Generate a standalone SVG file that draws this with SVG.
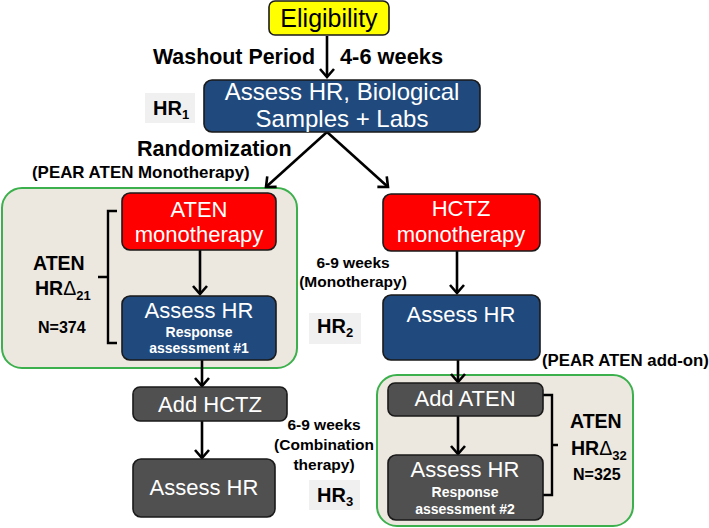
<svg xmlns="http://www.w3.org/2000/svg" width="709" height="528" viewBox="0 0 709 528">
<defs>
<marker id="ah" markerUnits="userSpaceOnUse" markerWidth="20" markerHeight="20" refX="0" refY="0" viewBox="-10 -10 20 20" orient="auto" overflow="visible">
<path d="M-8,-7 L0,0 L-8,7" fill="none" stroke="#000" stroke-width="2.6" stroke-linejoin="miter"/>
</marker>
</defs>
<style>
text{font-family:"Liberation Sans",Arial,sans-serif}
.box{stroke:#1a1a1a;stroke-width:1.6}
.blue{fill:#204a7e}
.red{fill:#ff0000}
.gray{fill:#505050}
.yel{fill:#ffff00}
.cont{fill:#ece8df;stroke:#3bb04c;stroke-width:2}
.hrbox{fill:#f0f0f0}
.wt{fill:#fff;font-size:22px;text-anchor:middle}
.ws{fill:#fff;font-size:14px;font-weight:bold;text-anchor:middle}
.b{font-weight:bold;fill:#000}
.conn{stroke:#000;stroke-width:2.6;fill:none;marker-end:url(#ah)}
.br{stroke:#000;stroke-width:2.4;fill:none}
</style>

<g id="containers">
<rect class="cont" x="2" y="188" width="295" height="180" rx="20"/>
<rect class="cont" x="377" y="375" width="256" height="151" rx="20"/>
</g>

<g id="connectors">
<line class="conn" x1="327" y1="36" x2="327" y2="77"/>
<line class="conn" x1="327" y1="132" x2="266" y2="187"/>
<line class="conn" x1="327" y1="132" x2="388" y2="187"/>
<line class="conn" x1="200" y1="250" x2="200" y2="294"/>
<line class="conn" x1="457" y1="251" x2="457" y2="293"/>
<line class="conn" x1="458" y1="360" x2="458" y2="382"/>
<line class="conn" x1="458" y1="416" x2="458" y2="454"/>
<line class="conn" x1="202" y1="360" x2="202" y2="386"/>
<line class="conn" x1="202" y1="421" x2="202" y2="458"/>
<path class="br" d="M117,211 H108 V343 H117 M108,277 H98"/>
<path class="br" d="M543,395 H552 V495 H543 M552,445 H558"/>
</g>

<g id="eligibility">
<rect class="box yel" x="269" y="1" width="120" height="34" rx="6"/>
<text x="329" y="27" font-size="25" text-anchor="middle" fill="#000">Eligibility</text>
</g>

<g id="washout">
<text class="b" x="315" y="64" font-size="21.4" text-anchor="end">Washout Period</text>
<text class="b" x="340" y="64" font-size="21.8">4-6 weeks</text>
</g>

<g id="hr1">
<rect class="hrbox" x="145" y="93" width="50" height="30"/>
<text class="b" x="153" y="115" font-size="20">HR<tspan font-size="13" dy="4">1</tspan></text>
</g>

<g id="assess-baseline">
<rect class="box blue" x="204" y="80" width="276" height="52" rx="8"/>
<text class="wt" x="342" y="100" style="font-size:24px">Assess HR, Biological</text>
<text class="wt" x="342" y="127" style="font-size:24px">Samples + Labs</text>
</g>

<g id="randomization">
<text class="b" x="137" y="156" font-size="21.6">Randomization</text>
</g>

<g id="label-mono">
<text class="b" x="32" y="178" font-size="16.9">(PEAR ATEN Monotherapy)</text>
</g>

<g id="aten-mono">
<rect class="box red" x="122" y="193" width="154" height="57" rx="8"/>
<text class="wt" x="199" y="217">ATEN</text>
<text class="wt" x="199" y="242">monotherapy</text>
</g>

<g id="assess-hr-1">
<rect class="box blue" x="122" y="296" width="154" height="64" rx="8"/>
<text class="wt" x="199" y="318">Assess HR</text>
<text class="ws" x="199" y="337">Response</text>
<text class="ws" x="199" y="353">assessment #1</text>
</g>

<g id="aten-delta-21">
<text class="b" x="33" y="270" font-size="19.5">ATEN</text>
<text class="b" x="35" y="295" font-size="19.5">HR<tspan font-weight="normal">Δ</tspan><tspan font-size="13" dy="5">21</tspan></text>
<text class="b" x="38" y="333" font-size="16">N=374</text>
</g>

<g id="hctz-mono">
<rect class="box red" x="383" y="194" width="157" height="57" rx="8"/>
<text class="wt" x="461" y="216">HCTZ</text>
<text class="wt" x="461" y="242">monotherapy</text>
</g>

<g id="weeks-mono">
<text class="b" x="353" y="268" font-size="15.5" text-anchor="middle">6-9 weeks</text>
<text class="b" x="353" y="287" font-size="15.5" text-anchor="middle">(Monotherapy)</text>
</g>

<g id="hr2">
<rect class="hrbox" x="309" y="313" width="52" height="31"/>
<text class="b" x="317" y="333" font-size="20">HR<tspan font-size="13" dy="4">2</tspan></text>
</g>

<g id="assess-hr-right">
<rect class="box blue" x="383" y="295" width="157" height="65" rx="8"/>
<text class="wt" x="461" y="322">Assess HR</text>
</g>

<g id="label-addon">
<text class="b" x="542" y="366" font-size="16.8">(PEAR ATEN add-on)</text>
</g>

<g id="add-aten">
<rect class="box gray" x="388" y="383" width="155" height="33" rx="7"/>
<text class="wt" x="465" y="406">Add ATEN</text>
</g>

<g id="assess-hr-2">
<rect class="box gray" x="388" y="455" width="155" height="65" rx="8"/>
<text class="wt" x="465" y="477">Assess HR</text>
<text class="ws" x="465" y="497">Response</text>
<text class="ws" x="465" y="514">assessment #2</text>
</g>

<g id="aten-delta-32">
<text class="b" x="570" y="428" font-size="19.5">ATEN</text>
<text class="b" x="571" y="455" font-size="19.5">HR<tspan font-weight="normal">Δ</tspan><tspan font-size="13" dy="5">32</tspan></text>
<text class="b" x="573" y="480" font-size="16">N=325</text>
</g>

<g id="add-hctz">
<rect class="box gray" x="133" y="387" width="154" height="34" rx="7"/>
<text class="wt" x="210" y="412">Add HCTZ</text>
</g>

<g id="assess-hr-3">
<rect class="box gray" x="133" y="459" width="142" height="58" rx="8"/>
<text class="wt" x="204" y="495">Assess HR</text>
</g>

<g id="weeks-combo">
<text class="b" x="324" y="430" font-size="15.5" text-anchor="middle">6-9 weeks</text>
<text class="b" x="324" y="450" font-size="15.5" text-anchor="middle">(Combination</text>
<text class="b" x="324" y="470" font-size="15.5" text-anchor="middle">therapy)</text>
</g>

<g id="hr3">
<rect class="hrbox" x="309" y="480" width="51" height="30"/>
<text class="b" x="317" y="502" font-size="20">HR<tspan font-size="13" dy="4">3</tspan></text>
</g>
</svg>
